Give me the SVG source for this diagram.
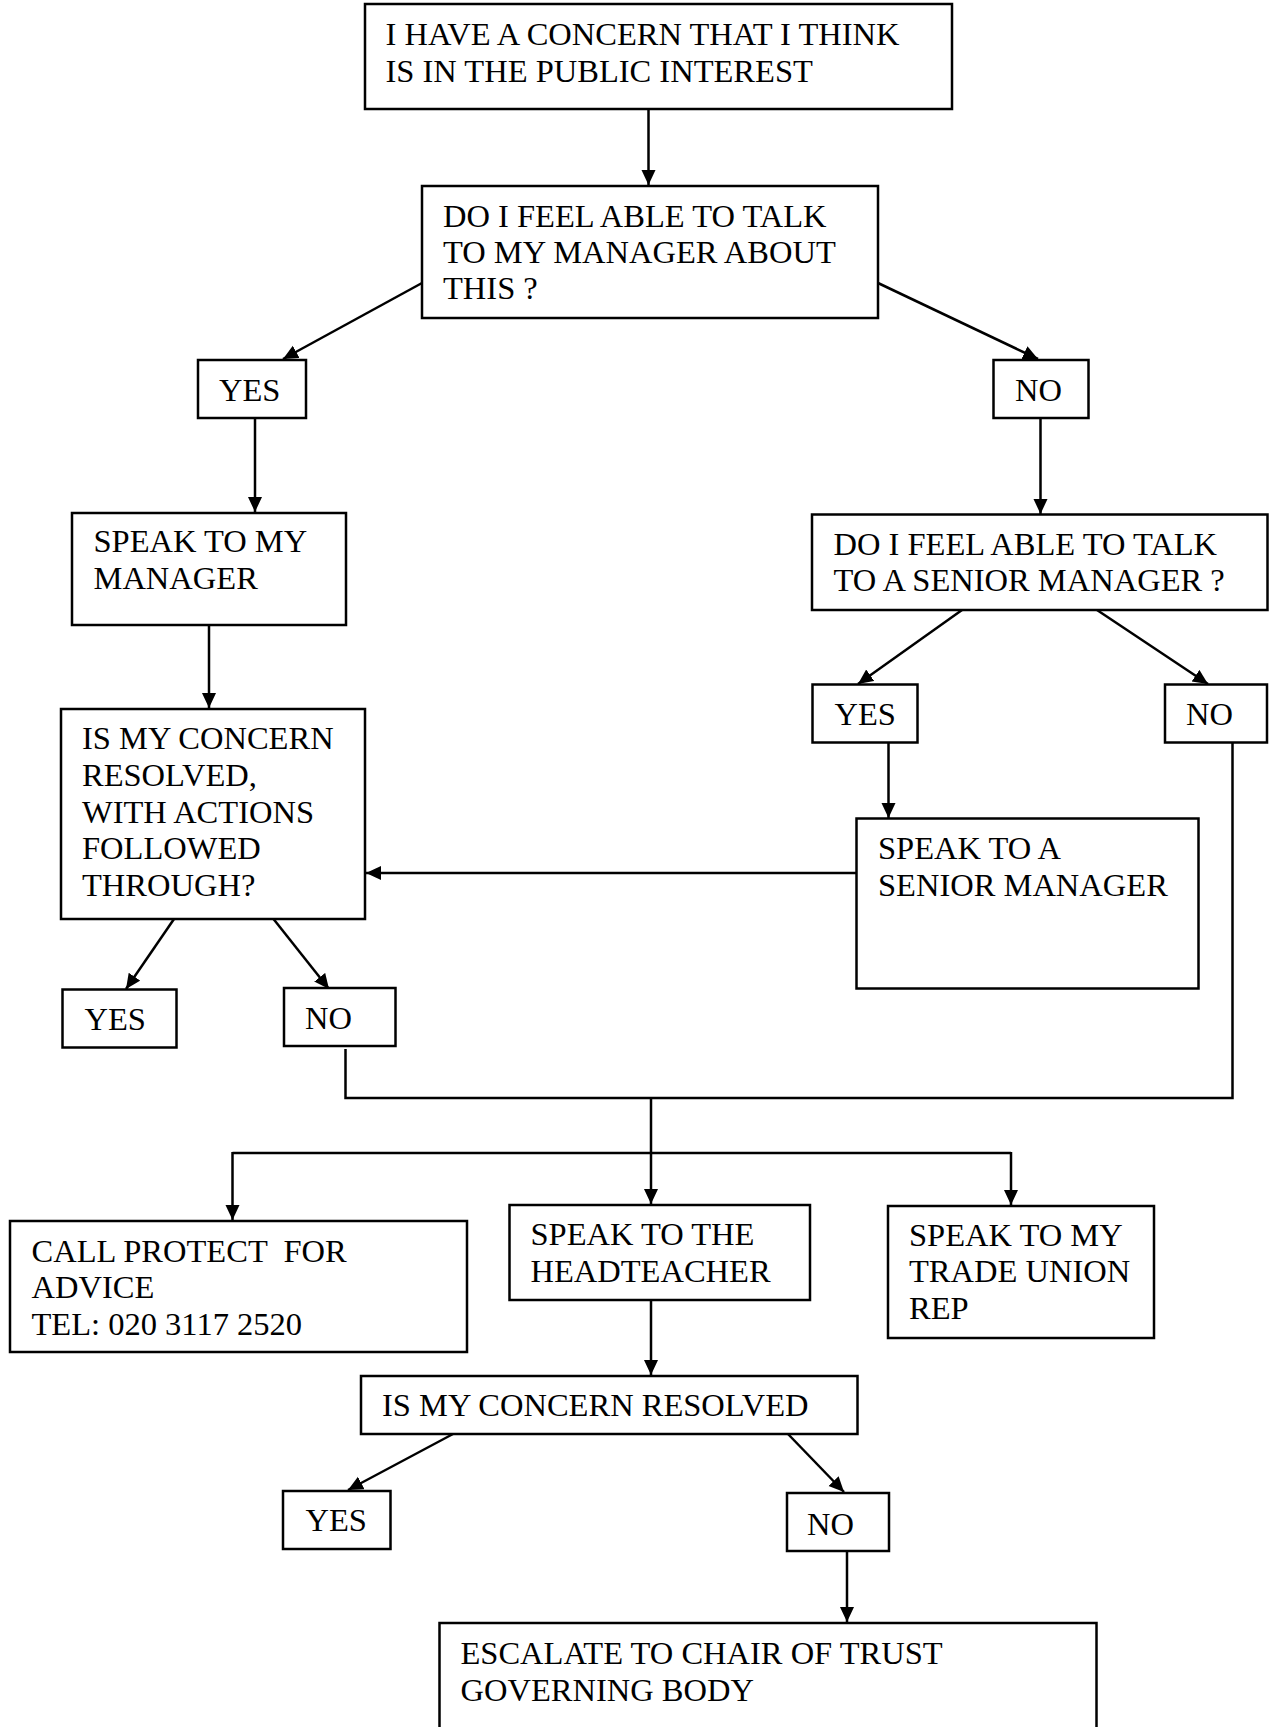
<svg xmlns="http://www.w3.org/2000/svg" width="1272" height="1727" viewBox="0 0 1272 1727">
<style>
.b{fill:#fff;stroke:#000;stroke-width:2.5}
.t{font-family:"Liberation Serif","Times New Roman",serif;font-size:32.5px;fill:#000}
.c{fill:none;stroke:#000;stroke-width:2.5}
</style>
<defs>
<marker id="ah" markerUnits="userSpaceOnUse" markerWidth="16" markerHeight="16" refX="15" refY="7" orient="auto">
<path d="M0,0 L15,7 L0,14 z" fill="#000"/>
</marker>
</defs>
<rect width="1272" height="1727" fill="#fff"/>
<g id="connectors">
<line class="c" x1="648.5" y1="109" x2="648.5" y2="185" marker-end="url(#ah)"/>
<line class="c" x1="422" y1="283" x2="283" y2="359" marker-end="url(#ah)"/>
<line class="c" x1="878" y1="283" x2="1038" y2="359" marker-end="url(#ah)"/>
<line class="c" x1="255" y1="418" x2="255" y2="512" marker-end="url(#ah)"/>
<line class="c" x1="1040.5" y1="418" x2="1040.5" y2="514" marker-end="url(#ah)"/>
<line class="c" x1="209" y1="625" x2="209" y2="708" marker-end="url(#ah)"/>
<line class="c" x1="962" y1="610" x2="858" y2="684" marker-end="url(#ah)"/>
<line class="c" x1="1097" y1="610" x2="1208" y2="684" marker-end="url(#ah)"/>
<line class="c" x1="888.5" y1="743" x2="888.5" y2="818" marker-end="url(#ah)"/>
<line class="c" x1="856" y1="873" x2="366" y2="873" marker-end="url(#ah)"/>
<line class="c" x1="174" y1="919" x2="126" y2="989" marker-end="url(#ah)"/>
<line class="c" x1="273.5" y1="919" x2="329" y2="989" marker-end="url(#ah)"/>
<polyline class="c" points="1232.5,743 1232.5,1098 345.5,1098 345.5,1049"/>
<line class="c" x1="651" y1="1098" x2="651" y2="1204" marker-end="url(#ah)"/>
<line class="c" x1="232.5" y1="1153" x2="1011" y2="1153"/>
<line class="c" x1="232.5" y1="1152" x2="232.5" y2="1220" marker-end="url(#ah)"/>
<line class="c" x1="1011" y1="1152" x2="1011" y2="1205" marker-end="url(#ah)"/>
<line class="c" x1="651" y1="1300" x2="651" y2="1375" marker-end="url(#ah)"/>
<line class="c" x1="453" y1="1434" x2="348" y2="1490" marker-end="url(#ah)"/>
<line class="c" x1="788" y1="1434" x2="844" y2="1492" marker-end="url(#ah)"/>
<line class="c" x1="847" y1="1551" x2="847" y2="1622" marker-end="url(#ah)"/>
</g>
<g id="n1"><rect class="b" x="365" y="4" width="587" height="105"/>
<text class="t" x="385.5" y="45">I HAVE A CONCERN THAT I THINK</text>
<text class="t" x="385.5" y="82">IS IN THE PUBLIC INTEREST</text></g>
<g id="n2"><rect class="b" x="422" y="186" width="456" height="132"/>
<text class="t" x="443" y="227">DO I FEEL ABLE TO TALK</text>
<text class="t" x="443" y="263">TO MY MANAGER ABOUT</text>
<text class="t" x="443" y="299">THIS ?</text></g>
<g id="n3"><rect class="b" x="198" y="360" width="108" height="58"/>
<text class="t" x="219" y="401">YES</text></g>
<g id="n4"><rect class="b" x="993.5" y="360" width="95" height="58"/>
<text class="t" x="1015" y="401">NO</text></g>
<g id="n5"><rect class="b" x="72" y="513" width="274" height="112"/>
<text class="t" x="93.5" y="552">SPEAK TO MY</text>
<text class="t" x="93.5" y="589">MANAGER</text></g>
<g id="n6"><rect class="b" x="812" y="514.5" width="455.5" height="95.5"/>
<text class="t" x="833.5" y="555">DO I FEEL ABLE TO TALK</text>
<text class="t" x="833.5" y="591">TO A SENIOR MANAGER ?</text></g>
<g id="n7"><rect class="b" x="61" y="709" width="304" height="210"/>
<text class="t" x="82" y="749">IS MY CONCERN</text>
<text class="t" x="82" y="786">RESOLVED,</text>
<text class="t" x="82" y="823">WITH ACTIONS</text>
<text class="t" x="82" y="859">FOLLOWED</text>
<text class="t" x="82" y="896">THROUGH?</text></g>
<g id="n8"><rect class="b" x="812.5" y="684.5" width="105" height="58"/>
<text class="t" x="834.5" y="725">YES</text></g>
<g id="n9"><rect class="b" x="1165" y="684.5" width="102" height="58"/>
<text class="t" x="1186" y="725">NO</text></g>
<g id="n10"><rect class="b" x="856.5" y="818.5" width="342" height="170"/>
<text class="t" x="878" y="859">SPEAK TO A</text>
<text class="t" x="878" y="896">SENIOR MANAGER</text></g>
<g id="n11"><rect class="b" x="62.5" y="989.5" width="114" height="58"/>
<text class="t" x="84.5" y="1030">YES</text></g>
<g id="n12"><rect class="b" x="284" y="988" width="111.5" height="58"/>
<text class="t" x="305" y="1029">NO</text></g>
<g id="n13"><rect class="b" x="10" y="1221" width="457" height="131"/>
<text class="t" x="31.5" y="1262" xml:space="preserve">CALL PROTECT  FOR</text>
<text class="t" x="31.5" y="1298">ADVICE</text>
<text class="t" x="31.5" y="1335">TEL: 020 3117 2520</text></g>
<g id="n14"><rect class="b" x="509.5" y="1205" width="300.5" height="95"/>
<text class="t" x="530.5" y="1245">SPEAK TO THE</text>
<text class="t" x="530.5" y="1282">HEADTEACHER</text></g>
<g id="n15"><rect class="b" x="888" y="1206" width="266" height="132"/>
<text class="t" x="909" y="1246">SPEAK TO MY</text>
<text class="t" x="909" y="1282">TRADE UNION</text>
<text class="t" x="909" y="1319">REP</text></g>
<g id="n16"><rect class="b" x="361" y="1376" width="496.5" height="58"/>
<text class="t" x="382" y="1416">IS MY CONCERN RESOLVED</text></g>
<g id="n17"><rect class="b" x="283" y="1491" width="107.5" height="58"/>
<text class="t" x="305.5" y="1531">YES</text></g>
<g id="n18"><rect class="b" x="787" y="1493" width="102" height="58"/>
<text class="t" x="807" y="1535">NO</text></g>
<g id="n19"><rect class="b" x="439.5" y="1623" width="657" height="120"/>
<text class="t" x="460.5" y="1664">ESCALATE TO CHAIR OF TRUST</text>
<text class="t" x="460.5" y="1701">GOVERNING BODY</text></g>
</svg>
